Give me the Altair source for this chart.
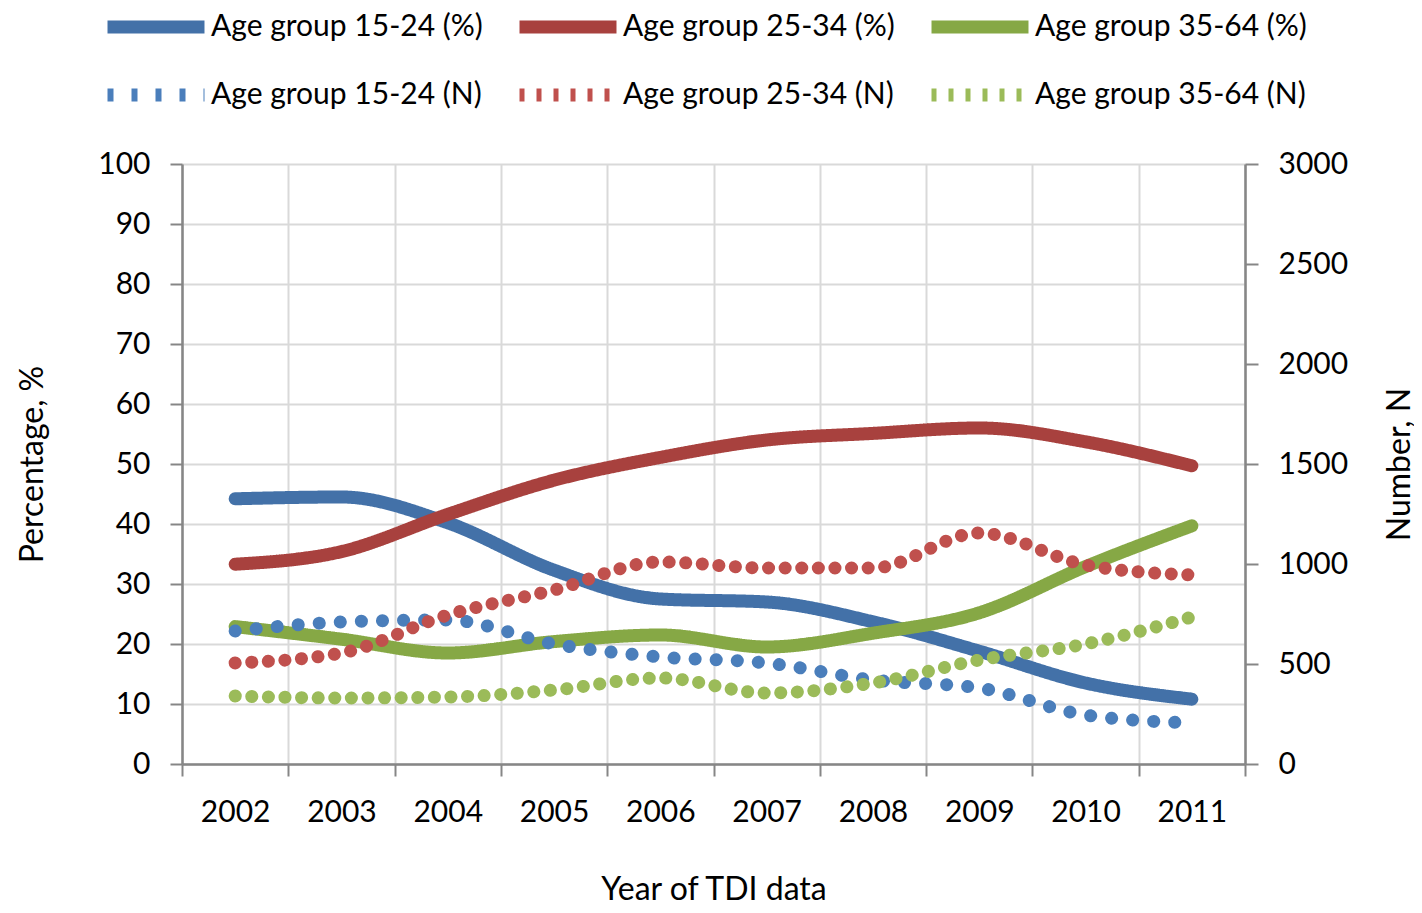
import altair as alt
import pandas as pd

years = ["2002", "2003", "2004", "2005", "2006", "2007", "2008", "2009", "2010", "2011"]

pct_15_24 = [44.2, 44.5, 40.2, 32.3, 27.5, 27.0, 23.7, 18.8, 13.5, 10.8]
pct_25_34 = [33.3, 35.4, 41.6, 47.3, 51.1, 54.0, 55.1, 56.0, 53.7, 49.7]
pct_35_64 = [22.9, 20.8, 18.5, 20.4, 21.5, 19.5, 21.8, 25.2, 32.9, 39.7]

n_15_24 = [665, 710, 720, 600, 535, 505, 420, 380, 245, 205]
n_25_34 = [505, 555, 745, 870, 1010, 980, 980, 1155, 995, 945]
n_35_64 = [340, 330, 335, 370, 430, 355, 405, 520, 600, 735]

series_names = [
    "Age group 15-24 (%)", "Age group 25-34 (%)", "Age group 35-64 (%)",
    "Age group 15-24 (N)", "Age group 25-34 (N)", "Age group 35-64 (N)",
]
series_colors = ["#4371A8", "#A8413E", "#86A845", "#4A7EBB", "#C0504D", "#9BBB59"]
legend_dashes = [[1, 0], [1, 0], [1, 0], [6, 18], [5, 12], [5, 12]]
series_widths = [13, 13, 13, 6.5, 5, 5]

pct_rows = []
for name, vals in zip(series_names[:3], [pct_15_24, pct_25_34, pct_35_64]):
    for yr, v in zip(years, vals):
        pct_rows.append({"year": yr, "series": name, "pct": v})
n_rows = []
for name, vals in zip(series_names[3:], [n_15_24, n_25_34, n_35_64]):
    for yr, v in zip(years, vals):
        n_rows.append({"year": yr, "series": name, "n": v})
df_pct = pd.DataFrame(pct_rows)
df_n = pd.DataFrame(n_rows)

FONT = "Lato"
AXIS_GRAY = "#868686"

x_enc = alt.X(
    "year:O",
    sort=years,
    scale=alt.Scale(type="band", paddingInner=0, paddingOuter=0),
    axis=alt.Axis(
        tickBand="extent", grid=True, gridColor="#D9D9D9", gridWidth=2,
        domainColor=AXIS_GRAY, domainWidth=2.5, tickColor=AXIS_GRAY, tickWidth=2,
        tickSize=12, labelPadding=21, labelAngle=0, labelFontSize=30,
        titlePadding=47, titleFontSize=32,
    ),
    title="Year of TDI data",
)

legend = alt.Legend(
    title=None, orient="none", legendX=-81, legendY=-156, columns=3,
    direction="horizontal", symbolType="M-4,0H4", symbolSize=588,
    symbolOffset=36, labelOffset=36,
    labelFont=FONT, labelFontSize=30, labelColor="#000000",
    labelLimit=500, columnPadding=10, rowPadding=16,
)

color_enc = alt.Color("series:N", scale=alt.Scale(domain=series_names, range=series_colors), legend=legend)
dash_enc = alt.StrokeDash("series:N", scale=alt.Scale(domain=series_names, range=legend_dashes), legend=legend)
width_enc = alt.StrokeWidth("series:N", scale=alt.Scale(domain=series_names, range=series_widths), legend=legend)

y_pct = alt.Y(
    "pct:Q",
    scale=alt.Scale(domain=[0, 100], nice=False),
    axis=alt.Axis(
        values=list(range(0, 101, 10)), grid=True, gridColor="#D9D9D9", gridWidth=2,
        domainColor=AXIS_GRAY, domainWidth=2.5, tickColor=AXIS_GRAY, tickWidth=2,
        tickSize=12, labelPadding=20, labelFontSize=30, titlePadding=48, titleFontSize=32,
    ),
    title="Percentage, %",
)

pct_chart = alt.Chart(df_pct).mark_line(strokeCap="round", strokeJoin="round", interpolate="monotone").encode(
    x=x_enc,
    y=y_pct,
    color=color_enc,
    strokeDash=dash_enc,
    strokeWidth=width_enc,
)

y_n = alt.Y(
    "n:Q",
    scale=alt.Scale(domain=[0, 3000], nice=False),
    axis=alt.Axis(
        orient="right", values=list(range(0, 3001, 500)), format="d", grid=False,
        domainColor=AXIS_GRAY, domainWidth=2.5, tickColor=AXIS_GRAY, tickWidth=2,
        tickSize=13, labelPadding=20, labelFontSize=30, titlePadding=69, titleFontSize=32,
        titleAngle=270,
    ),
    title="Number, N",
)

n_blue = alt.Chart(df_n).transform_filter(
    alt.datum.series == series_names[3]
).mark_line(interpolate="monotone", strokeCap="round", strokeDash=[0.1, 21]).encode(
    x=x_enc, y=y_n, color=color_enc, strokeWidth=width_enc,
)
n_other = alt.Chart(df_n).transform_filter(
    alt.datum.series != series_names[3]
).mark_line(interpolate="monotone", strokeCap="round", strokeDash=[0.1, 16.5]).encode(
    x=x_enc, y=y_n, color=color_enc, strokeWidth=width_enc, detail="series:N",
)
n_chart = alt.layer(n_blue, n_other)

chart = alt.layer(pct_chart, n_chart).resolve_scale(y="independent").properties(
    width=1063,
    height=600,
    autosize=alt.AutoSizeParams(type="none"),
    padding={"left": 174, "top": 156, "right": 169, "bottom": 140},
).configure_view(strokeWidth=0).configure_axis(
    labelFont=FONT, titleFont=FONT, labelColor="#000000", titleColor="#000000",
    titleFontWeight="normal",
)

chart.save("out.html", embed_options={"renderer": "svg", "actions": False})
